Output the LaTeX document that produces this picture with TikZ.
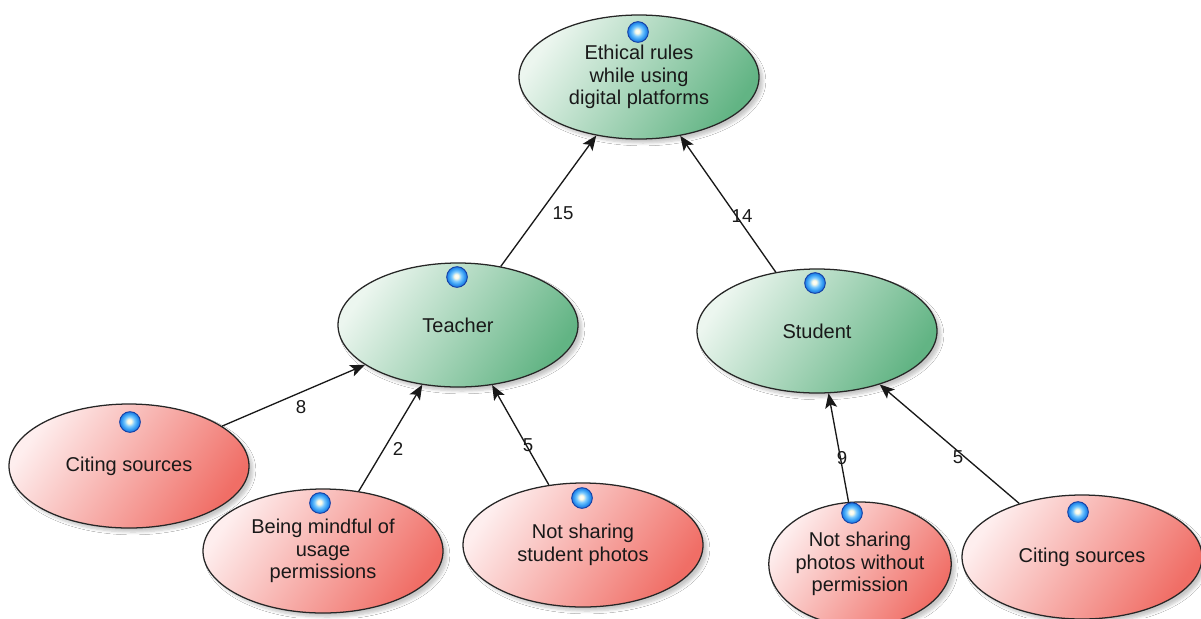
\documentclass[tikz,border=0pt]{standalone}
\usepackage{fontspec}
\setmainfont{Liberation Sans}
\usetikzlibrary{shapes.geometric,arrows.meta,shadows.blur}
\pgfdeclarelayer{bg}
\pgfsetlayers{bg,main}
\definecolor{gL}{RGB}{236,246,239}
\definecolor{gD}{RGB}{98,180,132}
\definecolor{rL}{RGB}{254,238,238}
\definecolor{rD}{RGB}{240,110,102}
\definecolor{edgecol}{RGB}{25,25,25}
\definecolor{iconrim}{RGB}{20,65,165}
\definecolor{icA}{RGB}{250,250,230}
\definecolor{icB}{RGB}{120,200,255}
\definecolor{icC}{RGB}{45,150,240}
\definecolor{icD}{RGB}{25,100,215}
\definecolor{icE}{RGB}{20,65,165}
\pgfdeclareradialshading{iconball}{\pgfpoint{-2bp}{2bp}}{color(0bp)=(white); color(5bp)=(icA); color(12bp)=(icB); color(20bp)=(icC); color(27bp)=(icD); color(34bp)=(icE); color(50bp)=(icE)}
\tikzset{
  concept/.style={ellipse, draw=black!85, line width=0.95pt, inner sep=0pt, align=center,
    text=black!90, font=\fontsize{15}{16.8}\selectfont,
    minimum width=180pt, minimum height=93pt,
    blur shadow={shadow xshift=3pt, shadow yshift=-3pt, shadow blur steps=6, shadow opacity=22}},
  gnode/.style={concept, top color=gL, bottom color=gD, shading angle=55},
  rnode/.style={concept, top color=rL, bottom color=rD, shading angle=55},
  icon/.style={circle, minimum size=15.5pt, inner sep=0pt, draw=iconrim, line width=0.7pt, shade, shading=iconball},
  arr/.style={-{Stealth[length=11pt,width=9pt,inset=2.5pt]}, line width=1pt, draw=edgecol},
  ghost/.style={-{Stealth[length=11pt,width=9pt,inset=2.5pt]}, line width=1pt, draw=black!9,
    transform canvas={shift={(12,20)}}},
  lbl/.style={inner sep=1pt, font=\fontsize{14}{16}\selectfont, text=black!90}
}
\begin{document}
\begin{tikzpicture}[x=0.75pt,y=-0.75pt]
\useasboundingbox (0,0) rectangle (1201,618);
\clip (0,0) rectangle (1201,618);
\fill[white] (0,0) rectangle (1201,618);

% concept nodes
\node[gnode] (eth) at (639,77) {Ethical rules\\while using\\digital platforms};
\node[gnode] (tea) at (458,325) {Teacher};
\node[gnode] (stu) at (817,331) {Student};
\node[rnode] (cs1) at (129,466) {Citing sources};
\node[rnode] (bm)  at (323,551) {Being mindful of\\usage\\permissions};
\node[rnode] (nss) at (583,545) {Not sharing\\student photos};
\node[rnode, minimum width=136pt] (nsp) at (860,564) {Not sharing\\photos without\\permission};
\node[rnode] (cs2) at (1082,557) {Citing sources};

% icons
\node[icon] (ieth) at (638,32) {};
\node[icon] (itea) at (457,277) {};
\node[icon] (istu) at (815,283) {};
\node[icon] (ics1) at (130,422) {};
\node[icon] (ibm)  at (320,503) {};
\node[icon] (inss) at (582,498) {};
\node[icon] (insp) at (852,513) {};
\node[icon] (ics2) at (1078,512) {};

% faint ghost connectors
\begin{pgfonlayer}{bg}
\draw[ghost] (tea) -- (eth);
\draw[ghost] (stu) -- (eth);
\draw[ghost] (cs1) -- (tea);
\draw[ghost] (bm) -- (tea);
\draw[ghost] (nss) -- (tea);
\draw[ghost] (nsp) -- (stu);
\draw[ghost] (cs2) -- (stu);
\end{pgfonlayer}

% connectors
\draw[arr] (tea) -- (eth);
\draw[arr] (stu) -- (eth);
\draw[arr] (cs1) -- (tea);
\draw[arr] (bm) -- (tea);
\draw[arr] (nss) -- (tea);
\draw[arr] (nsp) -- (stu);
\draw[arr] (cs2) -- (stu);

% labels
\node[lbl] (l15) at (563,213) {15};
\node[lbl] (l14) at (742,216) {14};
\node[lbl] (l8)  at (301,407) {8};
\node[lbl] (l2)  at (398,449) {2};
\node[lbl] (l5a) at (528,445) {5};
\node[lbl] (l9)  at (842,458) {9};
\node[lbl] (l5b) at (958,457) {5};
\end{tikzpicture}
\end{document}
